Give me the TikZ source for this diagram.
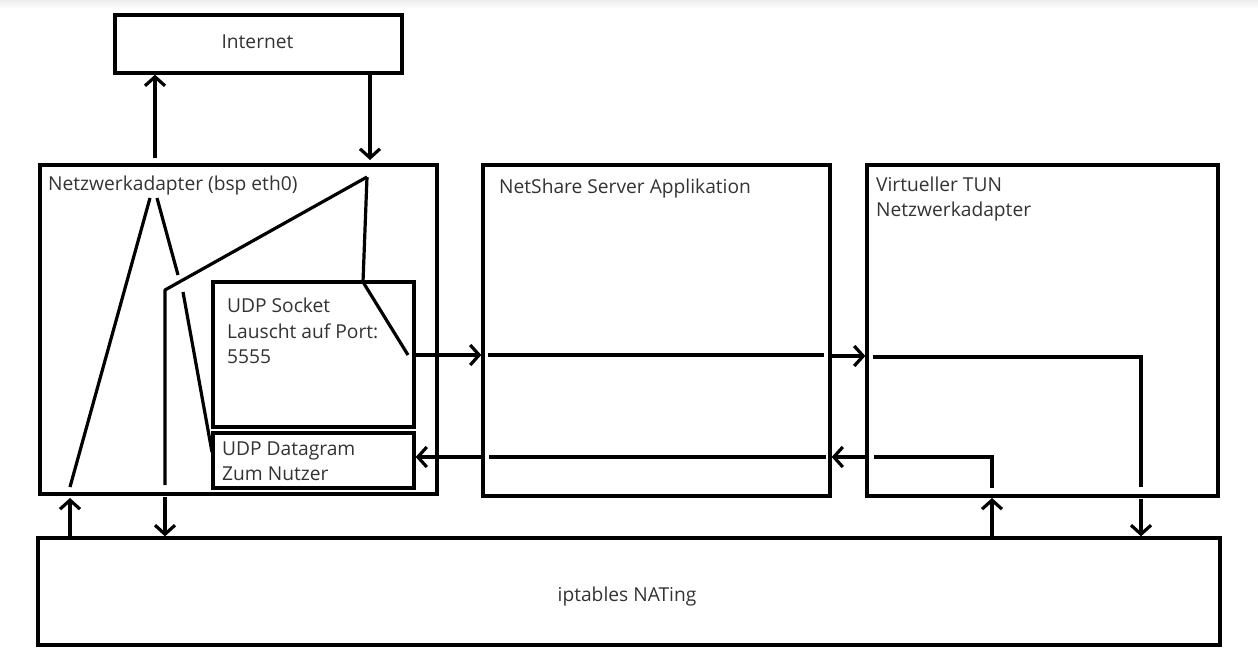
\documentclass[tikz,border=0pt]{standalone}
\usepackage{fontspec}
\setmainfont{Open Sans}
\usetikzlibrary{arrows.meta}
\definecolor{txt}{HTML}{333333}
\tikzset{
  box/.style={draw=black, line width=3.3pt, inner sep=0pt, minimum width=#1},
  lbl/.style={anchor=base west, inner sep=0pt, text=txt, font=\fontsize{19.2}{25}\selectfont},
  ln/.style={line width=3.2pt, line cap=butt},
  arr/.style={ln, -{Straight Barb[length=9pt,width=20pt,line width=3.2pt]}},
}
\begin{document}
\begin{tikzpicture}[x=1pt,y=-1pt]
\useasboundingbox (0,0) rectangle (1258,650);
\fill[top color=black!7, bottom color=white] (0,0) rectangle (1258,9);
% boxes
\node[box=287pt, minimum height=58pt] (inet) at (258.5,44) {};
\node[box=397pt, minimum height=329pt] (nic) at (238.5,329.5) {};
\node[box=201pt, minimum height=145pt] (sock) at (313.5,354.5) {};
\node[box=201pt, minimum height=55pt] (dgram) at (313.5,460.5) {};
\node[box=347pt, minimum height=331pt] (app) at (656.5,330.5) {};
\node[box=351pt, minimum height=331pt] (tun) at (1042.5,330.5) {};
\node[box=1182pt, minimum height=107pt] (nat) at (629,591.5) {};
% labels
\node[lbl, anchor=base] (tinet) at (257.5,49) {Internet};
\node[lbl] (tnic) at (48,190) {Netzwerkadapter (bsp eth0)};
\node[lbl] (tsock1) at (227,312) {UDP Socket};
\node[lbl] (tsock2) at (227,338) {Lauscht auf Port:};
\node[lbl] (tsock3) at (227,363) {5555};
\node[lbl] (tdg1) at (222,455) {UDP Datagram};
\node[lbl] (tdg2) at (222,480) {Zum Nutzer};
\node[lbl] (tapp) at (499,193) {NetShare Server Applikation};
\node[lbl] (ttun1) at (876,191) {Virtueller TUN};
\node[lbl] (ttun2) at (876,216) {Netzwerkadapter};
\node[lbl, anchor=base] (tnat) at (627,601) {iptables NATing};
% coordinates
\coordinate (up1) at (155,158);
\coordinate (dn1) at (370,160);
\coordinate (a1) at (367,177);
\coordinate (a2) at (363,282);
\coordinate (a3) at (408,355);
\coordinate (b1) at (165,290);
\coordinate (b2) at (165,485);
\coordinate (b3) at (165,497);
\coordinate (c1) at (150,198);
\coordinate (c2) at (70,487);
\coordinate (c3) at (70,498);
\coordinate (e1) at (157,198);
\coordinate (e2) at (178,275);
\coordinate (e3) at (183,292);
\coordinate (e4) at (212,452);
\coordinate (r1) at (415,355);
\coordinate (r2) at (488,355);
\coordinate (r3) at (824,355);
\coordinate (r4) at (832,356);
\coordinate (r5) at (873,357);
\coordinate (r6) at (1141,357);
\coordinate (r7) at (1141,487);
\coordinate (r8) at (1141,499);
\coordinate (s1) at (992,498);
\coordinate (s2) at (992,488);
\coordinate (s3) at (992,457);
\coordinate (s4) at (874,457);
\coordinate (s5) at (865,457);
\coordinate (s6) at (826,457);
\coordinate (s7) at (489,457);
\coordinate (s8) at (483,457);
% internet links
\draw[arr] (up1) -- (up1 |- inet.south);
\draw[arr] (dn1 |- inet.south) -- (dn1);
% inside nic
\draw[ln, line join=round] (a1) -- (a2) -- (a3);
\draw[ln, line join=round] (a1) -- (b1) -- (b2);
\draw[arr] (b3) -- (b3 |- nat.north);
\draw[ln] (c1) -- (c2);
\draw[arr] (c3 |- nat.north) -- (c3);
\draw[ln] (e1) -- (e2);
\draw[ln] (e3) -- (e4);
% forward path
\draw[arr] (r1) -- (r1 -| app.west);
\draw[ln] (r2) -- (r3);
\draw[arr] (r4) -- (r4 -| tun.west);
\draw[ln, line join=miter] (r5) -- (r6) -- (r7);
\draw[arr] (r8) -- (r8 |- nat.north);
% return path
\draw[arr] (s1 |- nat.north) -- (s1);
\draw[ln, line join=miter] (s2) -- (s3) -- (s4);
\draw[arr] (s5) -- (s5 -| app.east);
\draw[ln] (s6) -- (s7);
\draw[arr] (s8) -- (s8 -| dgram.east);
\end{tikzpicture}
\end{document}
